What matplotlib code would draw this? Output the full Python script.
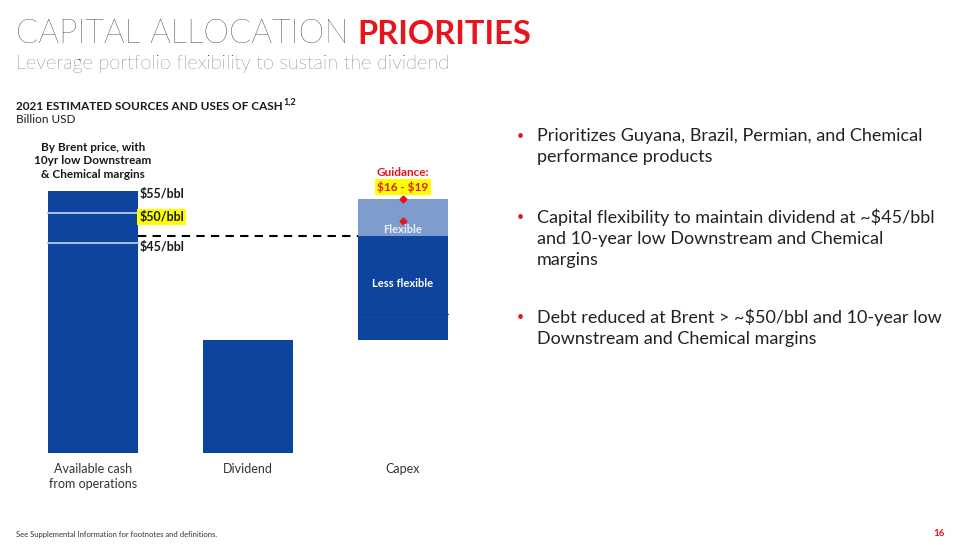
import matplotlib
matplotlib.use("Agg")
import matplotlib.pyplot as plt

plt.rcParams["text.parse_math"] = False

# ---------------- data ----------------
categories = ["Available cash\nfrom operations", "Dividend", "Capex"]
brent_labels = ["$45/bbl", "$50/bbl", "$55/bbl"]
available_cash = [28.0, 32.0, 35.0]        # by Brent price
dividend = 15.0
capex_less_flexible = [3.5, 10.5]          # two stacked sub-segments
capex_flexible = 5.0
guidance = [16.0, 19.0]
bullets = [
    "Prioritizes Guyana, Brazil, Permian, and Chemical\nperformance products",
    "Capital flexibility to maintain dividend at ~$45/bbl\nand 10-year low Downstream and Chemical\nmargins",
    "Debt reduced at Brent > ~$50/bbl and 10-year low\nDownstream and Chemical margins",
]

W, H = 960, 545
DARK = "#0C449E"
LIGHT = "#7E9DCD"
RED = "#E8141B"
YEL = "#FFFF00"
TXT = "#1A1A1A"
FONT = "Lato"

fig = plt.figure(figsize=(W / 100, H / 100), dpi=100)
fig.patch.set_facecolor("white")


def fx(x):
    return x / W


def fy(y):
    return 1 - y / H


# ---------------- chart axes ----------------
ax = fig.add_axes([0, (H - 452.5) / H, 496 / W, 298.8 / H])
ax.set_xlim(-0.6, 2.6)
ax.set_ylim(0, 40)
ax.axis("off")
bw = 0.575

# available cash bar (stacked levels)
ax.bar(0, available_cash[-1], width=bw, color=DARK, zorder=2)
for v in available_cash[:-1]:
    ax.plot([-bw / 2, bw / 2], [v, v], color="#A8C2EE", lw=1.4, zorder=3)

# dividend
ax.bar(1, dividend, width=bw, color=DARK, zorder=2)

# capex
base = dividend
ax.bar(2, capex_less_flexible[0], bottom=base, width=bw, color=DARK, zorder=2)
base += capex_less_flexible[0]
ax.plot([2 - bw / 2, 2 + bw / 2], [base, base], color="#0A3F98", lw=0.8, zorder=3)
ax.bar(2, capex_less_flexible[1], bottom=base, width=bw, color=DARK, zorder=2)
base += capex_less_flexible[1]
less_top = base
ax.bar(2, capex_flexible, bottom=base, width=bw, color=LIGHT, zorder=2)

# dashed line
ax.plot([bw / 2, 2 - bw / 2], [less_top, less_top], color="black", lw=1.5,
        ls=(0, (4, 3)), zorder=3)

# guidance dots (capex sits on top of dividend)
ax.plot([2] * len(guidance), [dividend + g for g in guidance],
        ls="none", marker="D", ms=3.5, color=RED, zorder=4, clip_on=False)

# brent labels
for lab, v in zip(brent_labels, available_cash):
    kw = {}
    if lab == "$50/bbl":
        kw["bbox"] = dict(facecolor=YEL, edgecolor="none", pad=1.5)
    ax.text(bw / 2 + 0.012, v - 0.45, lab, ha="left", va="center", fontsize=9,
            fontweight="bold", color=TXT, family=FONT, zorder=5, **kw)

# capex inner labels
ax.text(2, less_top + 0.9, "Flexible", ha="center", va="center", fontsize=8,
        fontweight="bold", color="#E8EEF8", family=FONT, zorder=5)
ax.text(2, dividend + 7.6, "Less flexible", ha="center", va="center", fontsize=8,
        fontweight="bold", color="white", family=FONT, zorder=5)

# category labels
for i, c in enumerate(categories):
    ax.text(i, -1.4, c, ha="center", va="top", fontsize=9, color="#333333",
            family=FONT, linespacing=1.35, clip_on=False)

# ---------------- page texts ----------------
t1 = fig.text(fx(16), fy(34), "CAPITAL ALLOCATION ", fontsize=23.5, family=FONT,
              fontweight="light", color="#000000", va="center", ha="left")
fig.canvas.draw()
bb = t1.get_window_extent()
fig.text(bb.x1 / W, fy(34), "PRIORITIES", fontsize=23.5, family=FONT,
         fontweight="bold", color=RED, va="center", ha="left")
fig.text(fx(16), fy(64), "Leverage portfolio flexibility to sustain the dividend",
         fontsize=14.3, family=FONT, fontweight="light", color="#111111",
         va="center", ha="left")

t2 = fig.text(fx(16), fy(106), "2021 ESTIMATED SOURCES AND USES OF CASH",
              fontsize=8.5, family=FONT, fontweight="bold", color=TXT,
              va="center", ha="left")
fig.canvas.draw()
bb2 = t2.get_window_extent()
fig.text(bb2.x1 / W + 0.001, fy(102), "1,2", fontsize=6.5, family=FONT,
         fontweight="bold", color=TXT, va="center", ha="left")
fig.text(fx(16), fy(119), "Billion USD", fontsize=8.5, family=FONT,
         color=TXT, va="center", ha="left")

fig.text(fx(93), fy(161), "By Brent price, with\n10yr low Downstream\n& Chemical margins",
         fontsize=8.5, family=FONT, fontweight="bold", color=TXT,
         ha="center", va="center", linespacing=1.25)

fig.text(fx(403), fy(172), "Guidance:", fontsize=8.5, family=FONT,
         fontweight="bold", color=RED, ha="center", va="center")
fig.text(fx(403), fy(187), "$16 - $19", fontsize=8.5, family=FONT,
         fontweight="bold", color=RED, ha="center", va="center",
         bbox=dict(facecolor=YEL, edgecolor="none", pad=1.5))

# bullets
bullet_y = [135, 216, 316]
for y, b in zip(bullet_y, bullets):
    fig.text(fx(517), fy(y + 1), "•", fontsize=9, color=RED, ha="left",
             va="center", family=FONT)
    fig.text(fx(537), fy(y - 7), b, fontsize=13, color="#222222", ha="left",
             va="top", family=FONT, linespacing=1.38)

fig.text(fx(16), fy(535), "See Supplemental Information for footnotes and definitions.",
         fontsize=5.5, family=FONT, color="#333333", ha="left", va="center")
fig.text(fx(945), fy(533), "16", fontsize=7, family=FONT, fontweight="bold",
         color=RED, ha="right", va="center")

fig.savefig("out.png", dpi=100, facecolor="white")
